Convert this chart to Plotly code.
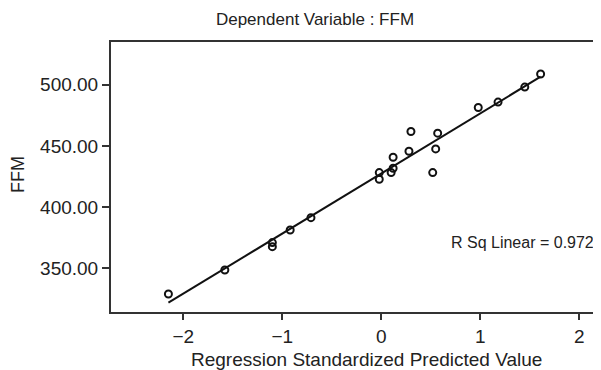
import numpy as np
import plotly.graph_objects as go

# Regression standardized predicted values (x) and observed FFM (y)
pred_std = [-2.15, -1.58, -1.10, -1.10, -0.92, -0.71,
            -0.02, -0.02, 0.10, 0.12, 0.12, 0.28, 0.30, 0.52, 0.55, 0.57,
            0.98, 1.18, 1.45, 1.61]
ffm = [328.7, 348.4, 367.5, 370.8, 381.1, 391.2,
       422.7, 428.1, 428.1, 431.7, 440.7, 445.6, 461.7, 428.1, 447.5, 460.4,
       481.4, 485.8, 498.1, 508.8]

x_ticks = [-2, -1, 0, 1, 2]
y_ticks = [350, 400, 450, 500]
y_tick_labels = ["350.00", "400.00", "450.00", "500.00"]
r_sq_text = "R Sq Linear = 0.972"

x_arr = np.array(pred_std)
y_arr = np.array(ffm)
slope, intercept = np.polyfit(x_arr, y_arr, 1)
fit_x = np.array([x_arr.min(), x_arr.max()])
fit_y = intercept + slope * fit_x

FONT = "Liberation Sans, Arial, Helvetica, sans-serif"
TXT = "#222222"
AX = "#333333"

# page body has an 8px default margin, so the figure is 8px smaller and offset
W, H = 593, 362
OFF = 8
PL, PT, PB = 111 - OFF, 42 - OFF, 312 - OFF   # plot area edges in figure px
PW, PH = W - PL, PB - PT

fig = go.Figure()
fig.add_trace(go.Scatter(x=fit_x, y=fit_y, mode="lines",
                         line=dict(color="#111111", width=2), showlegend=False))
fig.add_trace(go.Scatter(x=pred_std, y=ffm, mode="markers",
                         marker=dict(symbol="circle-open", size=7, color="#111111",
                                     line=dict(width=2, color="#111111")),
                         showlegend=False))

fig.update_layout(
    width=W, height=H,
    margin=dict(l=PL, r=0, t=PT, b=H - PB, autoexpand=False),
    paper_bgcolor="white", plot_bgcolor="white",
    font=dict(family=FONT, color=TXT),
    title=dict(text="Dependent Variable : FFM", x=(315 - OFF) / W, xanchor="center",
               xref="container", y=1 - (19 - OFF) / H, yanchor="middle", yref="container",
               font=dict(size=17, color=TXT, family=FONT)),
    xaxis=dict(range=[-2.73, 2.22], tickvals=x_ticks, showgrid=False, zeroline=False,
               showline=True, linecolor=AX, linewidth=2, mirror=True,
               ticks="outside", ticklen=6, tickwidth=2, tickcolor=AX, automargin=False,
               tickfont=dict(size=19, color=TXT, family=FONT)),
    yaxis=dict(range=[314, 535], tickvals=y_ticks, ticktext=y_tick_labels,
               showgrid=False, zeroline=False, automargin=False,
               showline=True, linecolor=AX, linewidth=2,
               ticks="outside", ticklen=7, tickwidth=2, tickcolor=AX,
               tickfont=dict(size=19, color=TXT, family=FONT)),
)

fig.add_annotation(text=r_sq_text, x=0.688, y=370.5, xref="x", yref="y",
                   xanchor="left", yanchor="middle", showarrow=False,
                   font=dict(size=16, color=TXT, family=FONT))
fig.add_annotation(text="Regression Standardized Predicted Value",
                   x=(366 - 111) / PW, y=-(359 - 312) / PH,
                   xref="paper", yref="paper", xanchor="center", yanchor="middle",
                   showarrow=False, font=dict(size=19, color=TXT, family=FONT))
fig.add_annotation(text="FFM", x=-(111 - 18) / PW, y=1 - (175 - 42) / PH,
                   xref="paper", yref="paper", xanchor="center", yanchor="middle",
                   textangle=-90, showarrow=False,
                   font=dict(size=18, color=TXT, family=FONT))

fig.write_html("out.html")
